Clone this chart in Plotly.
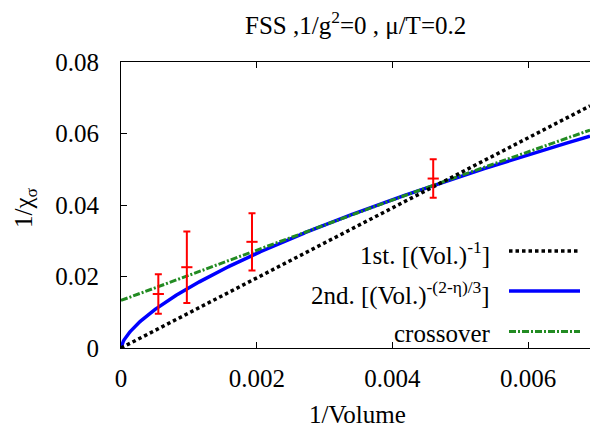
import numpy as np
import plotly.graph_objects as go

# Measured inverse susceptibility vs inverse volume
inv_volume = [0.00055, 0.00097, 0.00193, 0.00460]
inv_chi = [0.0151, 0.0226, 0.0297, 0.0474]
inv_chi_err = [0.0055, 0.0100, 0.0080, 0.0054]

# Fit parameters
slope_1st = 9.8            # 1st order: a * (Vol.)^-1
amp_2nd = 1.503            # 2nd order: b * (Vol.)^-(2-eta)/3
eta = 0.05
cross_c0, cross_c1, cross_c2 = 0.0133, 7.203, -44.2   # crossover curve

x_ticks = [0, 0.002, 0.004, 0.006]
x_tick_text = ["0", "0.002", "0.004", "0.006"]
y_ticks = [0, 0.02, 0.04, 0.06, 0.08]
y_tick_text = ["0", "0.02", "0.04", "0.06", "0.08"]

X_MAX = 0.00691
FONT = "'Liberation Serif', 'Times New Roman', Times, serif"

xs = np.linspace(0, X_MAX, 600)
y_1st = slope_1st * xs
y_2nd = amp_2nd * xs ** ((2 - eta) / 3)
y_cross = cross_c0 + cross_c1 * xs + cross_c2 * xs ** 2

BLACK_DASH = "3.5px,3px"
GREEN_DASH = "7px,2px,2px,2px"
BLUE = "#0000ff"
GREEN = "#228b22"

fig = go.Figure()
fig.add_trace(go.Scatter(x=xs, y=y_2nd, mode="lines",
                         line=dict(color=BLUE, width=3.5), showlegend=False))
fig.add_trace(go.Scatter(x=xs, y=y_cross, mode="lines",
                         line=dict(color=GREEN, width=3, dash=GREEN_DASH), showlegend=False))
fig.add_trace(go.Scatter(x=xs, y=y_1st, mode="lines",
                         line=dict(color="black", width=3.5, dash=BLACK_DASH), showlegend=False))
fig.add_trace(go.Scatter(
    x=inv_volume, y=inv_chi, mode="markers",
    marker=dict(symbol="line-ew", size=8, line=dict(color="red", width=2), color="red"),
    error_y=dict(type="data", array=inv_chi_err, visible=True,
                 color="red", thickness=2, width=3.5),
    showlegend=False))

# Legend: text on the left, line sample on the right
legend_rows = [
    ("1st. [(Vol.)<sup>-1</sup>]", dict(color="black", width=3.5, dash=BLACK_DASH), 251),
    ("2nd. [(Vol.)<sup>-(2-η)/3</sup>]", dict(color=BLUE, width=3.5), 291),
    ("crossover", dict(color=GREEN, width=3, dash=GREEN_DASH), 331.5),
]
PX_L, PX_R, PX_T, PX_B = 121, 590, 62, 348


def px_x(p):
    return (p - PX_L) / (PX_R - PX_L)


def px_y(p):
    return (PX_B - p) / (PX_B - PX_T)


annotations = []
shapes = []
for text, line, ypx in legend_rows:
    annotations.append(dict(text=text, x=px_x(492), y=px_y(ypx + 2), xref="paper", yref="paper",
                            xanchor="right", yanchor="middle", showarrow=False,
                            font=dict(family=FONT, size=25, color="black")))
    shapes.append(dict(type="line", xref="paper", yref="paper",
                       x0=px_x(509), x1=px_x(580), y0=px_y(ypx), y1=px_y(ypx), line=line))

annotations.append(dict(text="FSS ,1/g<sup>2</sup>=0 , μ/T=0.2", x=px_x(355), y=px_y(23),
                        xref="paper", yref="paper", xanchor="center", yanchor="middle",
                        showarrow=False, font=dict(family=FONT, size=25, color="black")))
annotations.append(dict(text="1/Volume", x=px_x(357), y=px_y(414),
                        xref="paper", yref="paper", xanchor="center", yanchor="middle",
                        showarrow=False, font=dict(family=FONT, size=25, color="black")))
annotations.append(dict(text="1/χ<sub>σ</sub>", x=px_x(26), y=px_y(208), textangle=-90,
                        xref="paper", yref="paper", xanchor="center", yanchor="middle",
                        showarrow=False, font=dict(family=FONT, size=25, color="black")))

fig.update_layout(
    width=590, height=428,
    margin=dict(l=PX_L, r=0, t=PX_T, b=428 - PX_B),
    paper_bgcolor="white", plot_bgcolor="white",
    font=dict(family=FONT, size=25, color="black"),
    annotations=annotations, shapes=shapes,
    xaxis=dict(range=[0, X_MAX], tickvals=x_ticks, ticktext=x_tick_text,
               ticks="inside", ticklen=6, tickcolor="black", showgrid=False, zeroline=False,
               showline=True, linecolor="black", linewidth=1, mirror="ticks",
               ticklabelstandoff=8),
    yaxis=dict(range=[0, 0.08], tickvals=y_ticks, ticktext=y_tick_text,
               ticks="inside", ticklen=6, tickcolor="black", showgrid=False, zeroline=False,
               showline=True, linecolor="black", linewidth=1, mirror=False,
               ticklabelstandoff=16),
)

fig.write_html("out.html")
